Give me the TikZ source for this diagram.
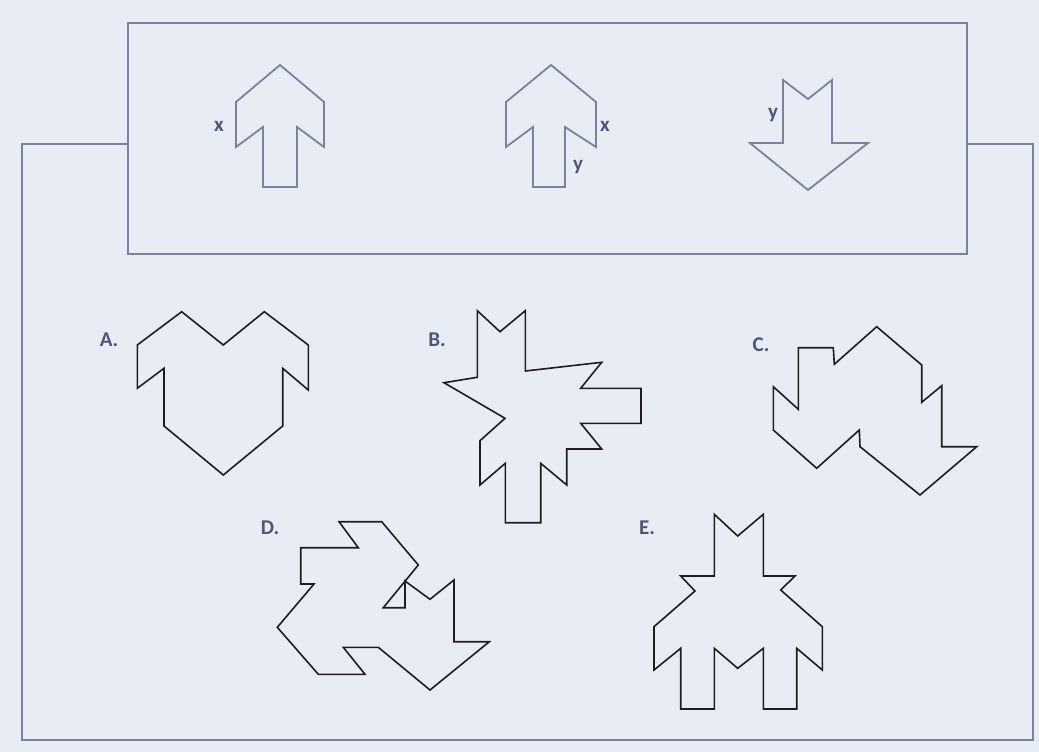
\documentclass[tikz,border=0pt]{standalone}
\usepackage{fontspec}
\setmainfont{Carlito}
\definecolor{bg}{HTML}{E8ECF4}
\definecolor{frame}{HTML}{7C819C}
\definecolor{lab}{HTML}{4F5678}
\definecolor{ink}{HTML}{1E1E22}
\tikzset{
  framelines/.style={draw=frame, line width=2pt, line join=miter},
  arrowshape/.style={draw=frame, line width=1.8pt, line join=miter},
  figshape/.style={draw=ink, line width=1.6pt, line join=miter},
  optlabel/.style={text=lab, font=\fontsize{21}{21}\selectfont\bfseries, inner sep=0pt},
  sidelabel/.style={text=lab, font=\fontsize{21}{21}\selectfont\bfseries, inner sep=0pt}
}
\begin{document}
\begin{tikzpicture}[x=1pt,y=-1pt]
\fill[bg] (0,0) rectangle (1039,752);
\useasboundingbox (0,0) rectangle (1039,752);
% frame
\draw[framelines] (128,144) -- (22,144) -- (22,740) -- (1033,740) -- (1033,144) -- (967,144);
\draw[framelines] (128,23) rectangle (967,254);
% top arrows
\draw[arrowshape] (280,65) -- (324,102) -- (324,147) -- (297,127) -- (297,187) -- (263,187) -- (263,127) -- (236,147) -- (236,102) -- cycle;
\node[sidelabel] (x1) at (219,126) {x};
\draw[arrowshape] (551,65) -- (596,102) -- (596,147) -- (565,127) -- (565,187) -- (533,187) -- (533,127) -- (506,147) -- (506,102) -- cycle;
\node[sidelabel] (x2) at (605,126) {x};
\node[sidelabel] (y2) at (578,167) {y};
\draw[arrowshape] (783,80) -- (808,99) -- (832,80) -- (832,143) -- (868,143) -- (808,190) -- (750,143) -- (783,143) -- cycle;
\node[sidelabel] (y3) at (773,115) {y};
% A
\node[optlabel] (la) at (109,340) {A.};
\draw[figshape] (137.3,345) -- (181.7,311.7) -- (223.3,345) -- (264.3,311.7) -- (308.3,345) -- (308.3,390) -- (282.7,368.3) -- (282.7,426) -- (223.3,475) -- (164,426) -- (164,368.3) -- (137.3,388.3) -- cycle;
% B
\node[optlabel] (lb) at (437,340) {B.};
\draw[figshape] (477.3,310.7) -- (500,331.7) -- (525.3,310.7) -- (525.3,371) -- (601.7,362.3) -- (580.7,388.3) -- (641,388.3) -- (641,423.3) -- (580.7,423.3) -- (601.7,449) -- (566.7,449) -- (566.7,485) -- (540.7,463.3) -- (540.7,522.7) -- (505.3,522.7) -- (505.3,463.3) -- (480,485) -- (480,440.7) -- (505,418.3) -- (444,382.7) -- (477.3,377.3) -- cycle;
% C
\node[optlabel] (lc) at (761,345) {C.};
\draw[figshape] (798.3,347.7) -- (833.3,347.7) -- (834.3,364.3) -- (876.7,326.7) -- (921.7,365) -- (921.7,402.3) -- (941.7,385.7) -- (941.7,446.7) -- (976.7,446.7) -- (920,495) -- (860,446.7) -- (859.3,430) -- (816.7,468.3) -- (773.3,430) -- (773.3,386.7) -- (798.3,409.3) -- cycle;
% D
\node[optlabel] (ld) at (270,528) {D.};
\draw[figshape] (339,521.7) -- (381.7,521.7) -- (418.3,565) -- (383.3,607.7) -- (405,607.7) -- (405,581) -- (430,599.3) -- (454,580) -- (454,641.7) -- (489.3,641.7) -- (430,690) -- (378.3,647.3) -- (343.3,647.3) -- (365,674.3) -- (318.3,674.3) -- (277.3,627.3) -- (314,584) -- (300.7,584) -- (300.7,547.7) -- (358.3,547.7) -- cycle;
% E
\node[optlabel] (le) at (647,528) {E.};
\draw[figshape] (714.3,514.3) -- (737.7,536) -- (763.3,514.3) -- (763.3,576) -- (795,576) -- (780.7,590) -- (822.3,626.7) -- (822.3,670) -- (796.7,648.3) -- (796.7,709) -- (763.3,709) -- (763.3,648.3) -- (737.7,668.3) -- (714.3,648.3) -- (714.3,709) -- (680.7,709) -- (680.7,648.3) -- (654,670) -- (654,626.7) -- (695,591) -- (680.7,576) -- (714.3,576) -- cycle;
\end{tikzpicture}
\end{document}
